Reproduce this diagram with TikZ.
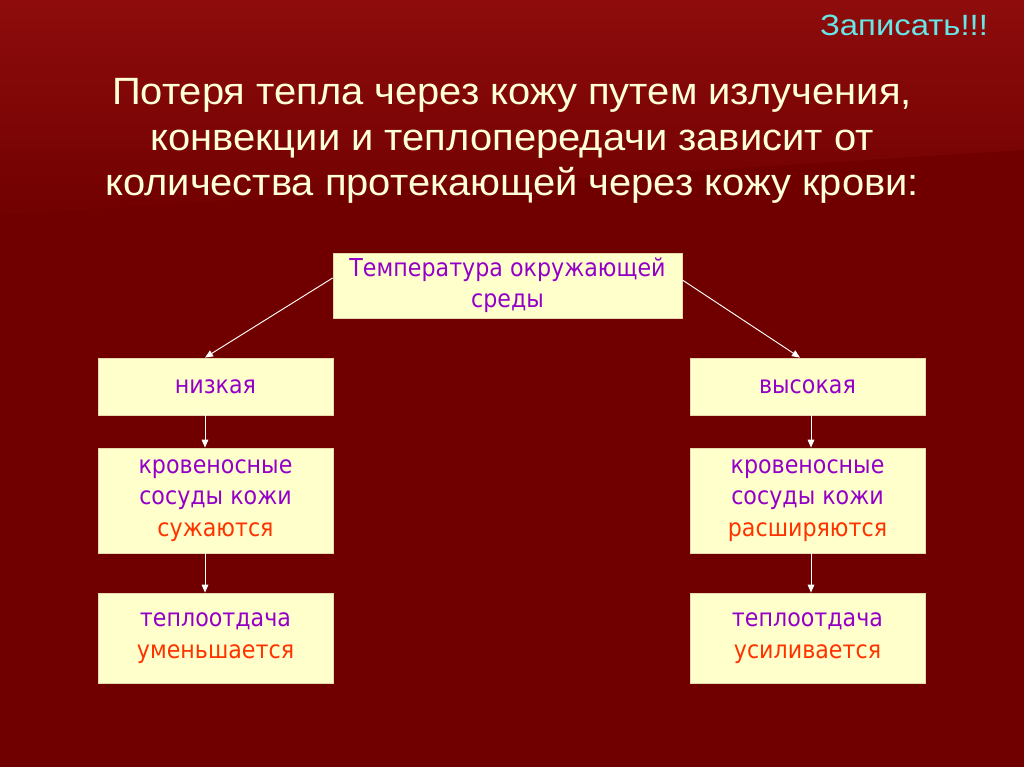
\documentclass[tikz,border=0pt]{standalone}
\usepackage{fontspec}
\setmainfont{DejaVu Sans}[FakeStretch=0.9]
\newfontfamily\titlefont{Liberation Sans}[FakeStretch=1.05]
\newfontfamily\recfont{Liberation Sans}[FakeStretch=1.12]
\usetikzlibrary{arrows.meta}
\definecolor{bgdark}{HTML}{700000}
\definecolor{bglight}{HTML}{8E0C0C}
\definecolor{boxfill}{HTML}{FFFFCC}
\definecolor{boxline}{HTML}{E8D8B0}
\definecolor{txtpurple}{HTML}{9400C8}
\definecolor{txtred}{HTML}{FF3300}
\definecolor{titlecol}{HTML}{FFFFD8}
\definecolor{cyantxt}{HTML}{66E6E6}
\tikzset{
  box/.style={draw=boxline, line width=0.6pt, fill=boxfill, inner sep=0pt, align=center,
    font=\fontsize{18.5}{23.5}\selectfont, text=txtpurple},
  conn/.style={draw=white, line width=0.7pt, -{Triangle[length=6pt,width=5pt]}},
}
\begin{document}
\begin{tikzpicture}[x=0.75pt,y=-0.75pt]
\useasboundingbox (0,0) rectangle (1024,767);
\fill[bgdark] (0,0) rectangle (1024,767);
\shade[top color=bglight, bottom color=bgdark!95!bglight] (0,0) -- (1024,0) -- (1024,150) -- (0,215) -- cycle;
\node[text=cyantxt, font=\recfont\fontsize{22}{26}\selectfont] (rec) at (904,25) {Записать!!!};
\node[text=titlecol, align=center, font=\titlefont\fontsize{28.5}{34}\selectfont] (title) at (512,141)
  {Потеря тепла через кожу путем излучения,\\ конвекции и теплопередачи зависит от\\ количества протекающей через кожу крови:};
% boxes
\node[box, minimum width=261.75pt, minimum height=48.75pt] (top) at (507.5,285.5)
  {Температура окружающей\\ среды};
\node[box, minimum width=176.25pt, minimum height=42.75pt] (low) at (215.5,386.5) {низкая};
\node[box, minimum width=176.25pt, minimum height=42.75pt] (high) at (807.5,386.5) {высокая};
\node[box, minimum width=176.25pt, minimum height=78.75pt] (v1) at (215.5,500.5)
  {кровеносные\\ сосуды кожи\\ \textcolor{txtred}{сужаются}};
\node[box, minimum width=176.25pt, minimum height=78.75pt] (v2) at (807.5,500.5)
  {кровеносные\\ сосуды кожи\\ \textcolor{txtred}{расширяются}};
\node[box, minimum width=176.25pt, minimum height=67.5pt] (h1) at (215.5,638)
  {теплоотдача\\ \textcolor{txtred}{уменьшается}};
\node[box, minimum width=176.25pt, minimum height=67.5pt] (h2) at (807.5,638)
  {теплоотдача\\ \textcolor{txtred}{усиливается}};
% connectors
\draw[conn] (top.west |- 0,278) -- (low.north -| 205,0);
\draw[conn] (top.east |- 0,280) -- (high.north -| 800,0);
\draw[conn] (low.south -| 205,0) -- (v1.north -| 205,0);
\draw[conn] (v1.south -| 205,0) -- (h1.north -| 205,0);
\draw[conn] (high.south -| 811,0) -- (v2.north -| 811,0);
\draw[conn] (v2.south -| 811,0) -- (h2.north -| 811,0);
\end{tikzpicture}
\end{document}
